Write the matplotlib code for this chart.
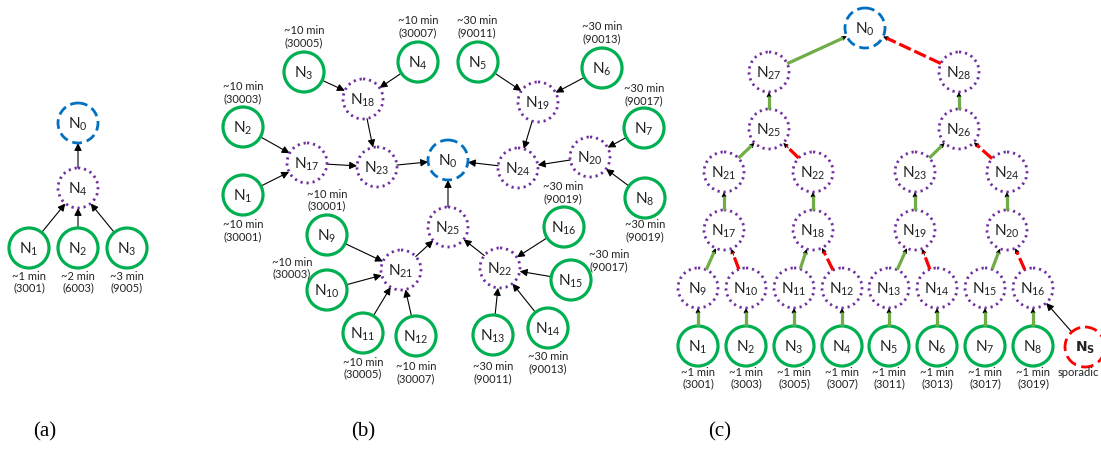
import math

import matplotlib
matplotlib.use("Agg")
import matplotlib.pyplot as plt
from matplotlib.patches import Circle, FancyArrowPatch

plt.rcParams['font.family'] = ['Lato', 'DejaVu Sans']

# ---- data: nodes, edges and the annotations under/over them ----
# panel (a)
a_sources = ["N1", "N2", "N3"]
a_periods = ["~1 min", "~2 min", "~3 min"]
a_codes = ["(3001)", "(6003)", "(9005)"]
a_edges = [("N1", "N4"), ("N2", "N4"), ("N3", "N4"), ("N4", "N0")]

# panel (b)
b_sources = ["N1", "N2", "N3", "N4", "N5", "N6", "N7", "N8",
             "N9", "N10", "N11", "N12", "N13", "N14", "N15", "N16"]
b_periods = ["~10 min", "~10 min", "~10 min", "~10 min", "~30 min", "~30 min", "~30 min", "~30 min",
             "~10 min", "~10 min", "~10 min", "~10 min", "~30 min", "~30 min", "~30 min", "~30 min"]
b_codes = ["(30001)", "(30003)", "(30005)", "(30007)", "(90011)", "(90013)", "(90017)", "(90019)",
           "(30001)", "(30003)", "(30005)", "(30007)", "(90011)", "(90013)", "(90017)", "(90019)"]
b_relays = ["N17", "N18", "N19", "N20", "N21", "N22", "N23", "N24", "N25"]
b_edges = [("N3", "N18"), ("N4", "N18"), ("N18", "N23"), ("N2", "N17"), ("N1", "N17"),
           ("N17", "N23"), ("N23", "N0"), ("N5", "N19"), ("N6", "N19"), ("N19", "N24"),
           ("N7", "N20"), ("N8", "N20"), ("N20", "N24"), ("N24", "N0"),
           ("N9", "N21"), ("N10", "N21"), ("N11", "N21"), ("N12", "N21"), ("N21", "N25"),
           ("N16", "N22"), ("N15", "N22"), ("N14", "N22"), ("N13", "N22"), ("N22", "N25"),
           ("N25", "N0")]

# panel (c)
c_sources = ["N1", "N2", "N3", "N4", "N5", "N6", "N7", "N8"]
c_periods = ["~1 min"] * 8
c_codes = ["(3001)", "(3003)", "(3005)", "(3007)", "(3011)", "(3013)", "(3017)", "(3019)"]
c_relays = ["N9", "N10", "N11", "N12", "N13", "N14", "N15", "N16",
            "N17", "N18", "N19", "N20", "N21", "N22", "N23", "N24",
            "N25", "N26", "N27", "N28"]
# 'g' = primary link (green), 'r' = secondary link (red dashed)
c_edges = [("N1", "N9", "g"), ("N2", "N10", "g"), ("N3", "N11", "g"), ("N4", "N12", "g"),
           ("N5", "N13", "g"), ("N6", "N14", "g"), ("N7", "N15", "g"), ("N8", "N16", "g"),
           ("N9", "N17", "g"), ("N10", "N17", "r"), ("N11", "N18", "g"), ("N12", "N18", "r"),
           ("N13", "N19", "g"), ("N14", "N19", "r"), ("N15", "N20", "g"), ("N16", "N20", "r"),
           ("N17", "N21", "g"), ("N18", "N22", "g"), ("N19", "N23", "g"), ("N20", "N24", "g"),
           ("N21", "N25", "g"), ("N22", "N25", "r"), ("N23", "N26", "g"), ("N24", "N26", "r"),
           ("N25", "N27", "g"), ("N26", "N28", "g"), ("N27", "N0", "g"), ("N28", "N0", "r")]
c_sporadic_edge = ("Ns", "N16")

# ---- layout (pixel positions) ----
A_POS = {"N0": (78, 123), "N4": (78, 188), "N1": (29, 248), "N2": (78, 248), "N3": (127, 248)}
A_LABEL = {"N1": (29, 276), "N2": (78, 276), "N3": (127, 276)}

B_POS = {"N0": (448, 160),
         "N1": (243, 195), "N2": (243, 127), "N3": (304, 72), "N4": (418, 62),
         "N5": (478, 62), "N6": (602, 68), "N7": (644, 128), "N8": (645, 198),
         "N9": (327, 235), "N10": (327, 290), "N11": (363, 333), "N12": (416, 336),
         "N13": (493, 335), "N14": (548, 328), "N15": (571, 280), "N16": (564, 227),
         "N17": (307, 163), "N18": (363, 99), "N19": (538, 102), "N20": (590, 157),
         "N21": (401, 270), "N22": (500, 268), "N23": (377, 167), "N24": (518, 168),
         "N25": (448, 227)}
B_LABEL = {"N1": (243, 225), "N2": (243, 87), "N3": (304, 31), "N4": (418, 21),
           "N5": (477, 21), "N6": (602, 27), "N7": (644, 89), "N8": (645, 225),
           "N9": (327, 194), "N10": (292, 262), "N11": (363, 362), "N12": (416, 367),
           "N13": (493, 367), "N14": (548, 357), "N15": (609, 255), "N16": (563, 187)}

C_COLS = [698, 746, 794, 842, 889, 937, 985, 1033]
C_POS = {"N0": (865, 28), "N27": (769, 72), "N28": (959, 72),
         "N25": (769, 129), "N26": (959, 129),
         "N21": (724, 172), "N22": (813, 172), "N23": (915, 172), "N24": (1007, 172),
         "N17": (724, 230), "N18": (813, 230), "N19": (915, 230), "N20": (1007, 230),
         "Ns": (1085, 347)}
for i, x in enumerate(C_COLS):
    C_POS["N%d" % (i + 9)] = (x, 288)
    C_POS["N%d" % (i + 1)] = (x, 346)

R = 20
GREEN = "#00b050"
PURPLE = "#7030a0"
BLUE = "#0070c0"
RED = "#ff0000"
LINK_GREEN = "#70ad47"
TEXT = "#222222"


def node_text(name):
    if name == "Ns":
        return r"$\mathbf{N_S}$"
    return r"$\mathregular{N_{%s}}$" % name[1:]


def draw_node(ax, name, xy, kind):
    if kind == "source":
        circ = Circle(xy, R, fill=False, ec=GREEN, lw=2.3)
    elif kind == "relay":
        circ = Circle(xy, R, fill=False, ec=PURPLE, lw=2.0, ls=(0, (0.8, 1.4)))
    elif kind == "sink":
        circ = Circle(xy, R, fill=False, ec=BLUE, lw=2.0, ls=(0, (3.5, 1.8)))
    else:
        circ = Circle(xy, R, fill=False, ec=RED, lw=2.0, ls=(0, (4.5, 2.0)))
    ax.add_patch(circ)
    size = 10 if name == "Ns" else 11
    ax.text(xy[0], xy[1] + 1, node_text(name), ha="center", va="center", fontsize=size, color=TEXT)


def ends(p, q):
    dx, dy = q[0] - p[0], q[1] - p[1]
    d = math.hypot(dx, dy)
    ux, uy = dx / d, dy / d
    return (p[0] + ux * R, p[1] + uy * R), (q[0] - ux * R, q[1] - uy * R), (ux, uy)


def thin_arrow(ax, p, q):
    s, e, _ = ends(p, q)
    ax.add_patch(FancyArrowPatch(s, e, arrowstyle="-|>", mutation_scale=11, lw=0.8,
                                 color="black", shrinkA=0, shrinkB=0))


def link_arrow(ax, p, q, style):
    s, e, (ux, uy) = ends(p, q)
    tip = (e[0] - ux * 4, e[1] - uy * 4)
    if style == "g":
        ax.plot([s[0], tip[0]], [s[1], tip[1]], color=LINK_GREEN, lw=2.3, solid_capstyle="butt")
    else:
        ax.plot([s[0], tip[0]], [s[1], tip[1]], color=RED, lw=2.3, ls=(0, (4, 1.2)))
    ax.add_patch(FancyArrowPatch((e[0] - ux * 7, e[1] - uy * 7), e, arrowstyle="-|>",
                                 mutation_scale=7, lw=0.6, color="black",
                                 shrinkA=0, shrinkB=0))


def two_line_label(ax, xy, top, bottom):
    ax.text(xy[0], xy[1], top, ha="center", va="center", fontsize=8, color=TEXT)
    ax.text(xy[0], xy[1] + 12, bottom, ha="center", va="center", fontsize=8, color=TEXT)


fig = plt.figure(figsize=(11.01, 4.49), dpi=100)
ax = fig.add_axes([0, 0, 1, 1])
ax.set_xlim(0, 1101)
ax.set_ylim(449, 0)
ax.axis("off")

# panel (a)
for a, b in a_edges:
    thin_arrow(ax, A_POS[a], A_POS[b])
draw_node(ax, "N0", A_POS["N0"], "sink")
draw_node(ax, "N4", A_POS["N4"], "relay")
for name, per, code in zip(a_sources, a_periods, a_codes):
    draw_node(ax, name, A_POS[name], "source")
    two_line_label(ax, A_LABEL[name], per, code)

# panel (b)
for a, b in b_edges:
    thin_arrow(ax, B_POS[a], B_POS[b])
draw_node(ax, "N0", B_POS["N0"], "sink")
for name in b_relays:
    draw_node(ax, name, B_POS[name], "relay")
for name, per, code in zip(b_sources, b_periods, b_codes):
    draw_node(ax, name, B_POS[name], "source")
    two_line_label(ax, B_LABEL[name], per, code)

# panel (c)
for a, b, style in c_edges:
    link_arrow(ax, C_POS[a], C_POS[b], style)
thin_arrow(ax, C_POS[c_sporadic_edge[0]], C_POS[c_sporadic_edge[1]])
draw_node(ax, "N0", C_POS["N0"], "sink")
for name in c_relays:
    draw_node(ax, name, C_POS[name], "relay")
for name, per, code in zip(c_sources, c_periods, c_codes):
    draw_node(ax, name, C_POS[name], "source")
    x, y = C_POS[name]
    two_line_label(ax, (x, y + 26), per, code)
draw_node(ax, "Ns", C_POS["Ns"], "sporadic")
ax.text(1099, C_POS["Ns"][1] + 26, "sporadic", ha="right", va="center",
        fontsize=8, color=TEXT)

# panel captions
for label, x in [("(a)", 45), ("(b)", 363), ("(c)", 720)]:
    ax.text(x, 432, label, ha="center", va="center", fontsize=15,
            family=["Liberation Serif", "DejaVu Serif"])

fig.savefig("out.png", dpi=100, facecolor="white")
